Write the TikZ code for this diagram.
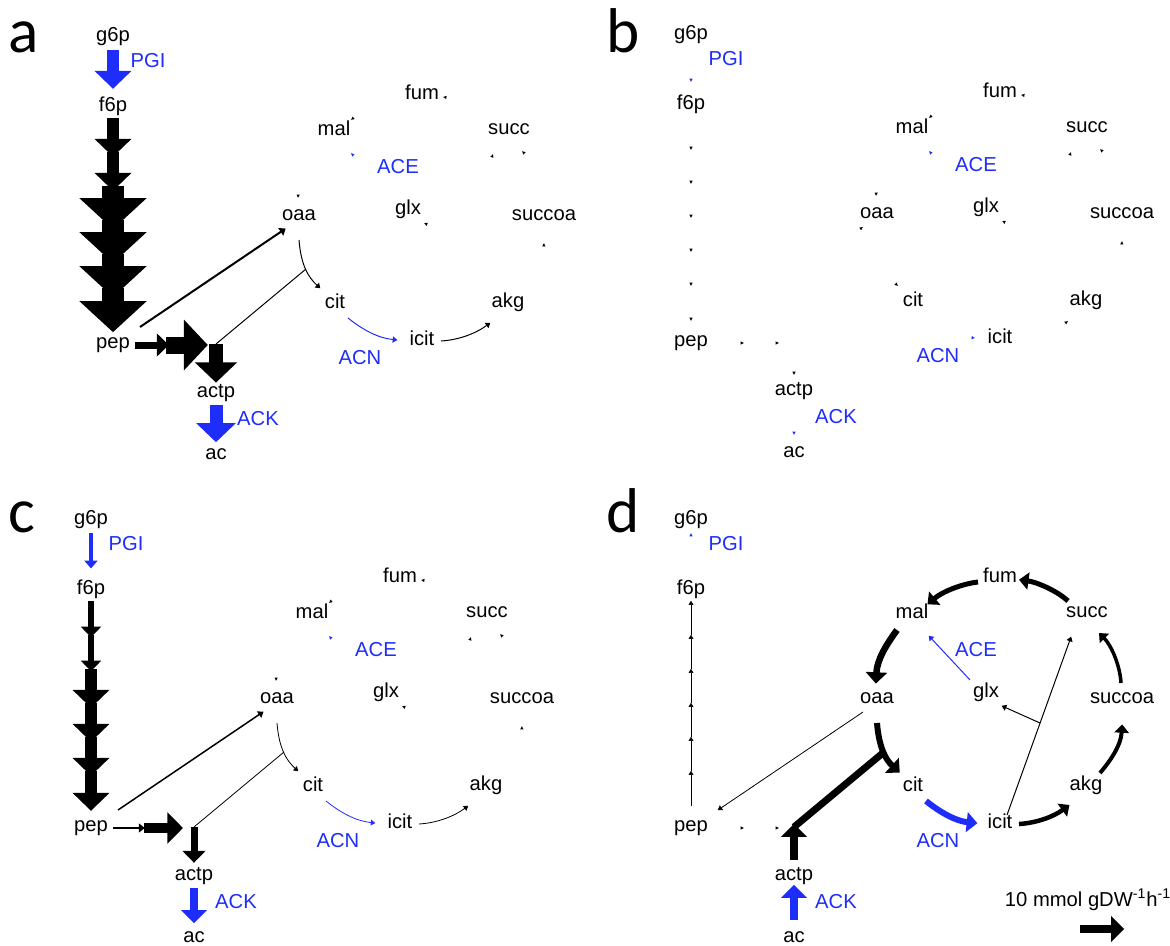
\documentclass[tikz,border=0pt]{standalone}
\usepackage{fontspec}
\setmainfont{Liberation Sans}
\newfontfamily\letterfont{Carlito}
\usetikzlibrary{arrows.meta}
\definecolor{enzblue}{RGB}{30,45,250}

\tikzset{
  met/.style={font=\fontsize{11.5}{13}\selectfont, inner sep=1pt},
  enz/.style={met, text=enzblue},
  lbl/.style={font=\letterfont\fontsize{36}{40}\selectfont, anchor=base west, inner sep=0pt},
  flux/.style={line width={abs(#1)*0.2mm}, shorten >={-0.08*abs(#1)*1mm},
    -{Triangle[length=2pt 1.2, width=2pt 2.7]}},
  nil/.style={line width=0.1pt, draw opacity=0, -{Triangle[length=2pt, width=2pt]}},
  link/.style={line width={#1*0.2mm}},
  enzarr/.style={draw=enzblue},
}

\newcommand\rxn[4][]{%
  \ifdim #2pt<0pt
    \ifdim -#2pt<0.1pt \draw[nil,#1] (#4) -- (#3);\else\draw[flux=#2,#1] (#4) -- (#3);\fi
  \else
    \ifdim #2pt<0.1pt \draw[nil,#1] (#3) -- (#4);\else\draw[flux=#2,#1] (#3) -- (#4);\fi
  \fi}
\newcommand\rxc[3][]{%
  \ifdim #2pt<0.1pt \draw[nil,#1] #3;\else\draw[flux=#2,#1] #3;\fi}

\newcommand\pathcs{(cs1) .. controls +(2,25) and +(-12,-11) .. (cs2)}
\newcommand\pathacn{(acn1) .. controls +(15,12) and +(-19,-2) .. (acn2)}
\newcommand\pathicd{(icd1) .. controls +(17,-1) and +(-15,11) .. (icd2)}
\newcommand\pathkg{(kg1) .. controls +(11,-13) and +(-1,19) .. (kg2)}
\newcommand\pathsc{(sc1) .. controls +(-1,-18) and +(11,11) .. (sc2)}
\newcommand\pathsd{(sd1) .. controls +(-12,-11) and +(15,2) .. (sd2)}
\newcommand\pathfm{(fm1) .. controls +(-17,2) and +(13,-11) .. (fm2)}
\newcommand\pathmd{(md1) .. controls +(-11,15) and +(1,-21) .. (md2)}

\newcommand\metabolites{%
  \node[met] (g6p) at (0,0) {g6p};
  \node[met] (f6p) at (0,69) {f6p};
  \node[met] (pep) at (0,308) {pep};
  \node[met] (actp) at (103,356) {actp};
  \node[met] (ac) at (103,417) {ac};
  \node[met] (oaa) at (186,178) {oaa};
  \node[met] (cit) at (222,264) {cit};
  \node[met] (icit) at (309,301) {icit};
  \node[met] (akg) at (395,265) {akg};
  \node[met] (succoa) at (431,178) {succoa};
  \node[met] (succ) at (396,92) {succ};
  \node[met] (fum) at (309,55) {fum};
  \node[met] (mal) at (221,91) {mal};
  \node[met] (glx) at (295,172) {glx};
  \node[enz] (PGI) at (35,24) {PGI};
  \node[enz] (ACE) at (285,130) {ACE};
  \node[enz] (ACN) at (247,321) {ACN};
  \node[enz] (ACK) at (145,382) {ACK};
  \coordinate (pgi1) at (0,13);
  \coordinate (pgi2) at (0,47);
  \coordinate (gly0) at (0,81);
  \coordinate (gly1) at (0,115);
  \coordinate (gly2) at (0,149);
  \coordinate (gly3) at (0,183);
  \coordinate (gly4) at (0,217);
  \coordinate (gly5) at (0,251);
  \coordinate (gly6) at (0,286);
  \coordinate (pepr) at (22,308);
  \coordinate (pyr) at (53,308);
  \coordinate (acc1) at (88,308);
  \coordinate (acc) at (103,307);
  \coordinate (act1) at (103,340);
  \coordinate (act2) at (103,368);
  \coordinate (ac1) at (103,400);
  \coordinate (ppc1) at (27,290);
  \coordinate (ppc2) at (172,192);
  \coordinate (csj) at (193,232);
  \coordinate (cs1) at (186,203);
  \coordinate (cs2) at (207,251);
  \coordinate (acn1) at (235,281);
  \coordinate (acn2) at (284,303);
  \coordinate (icd1) at (328,304);
  \coordinate (icd2) at (377,286);
  \coordinate (kg1) at (409,253);
  \coordinate (kg2) at (431,206);
  \coordinate (sc1) at (430,163);
  \coordinate (sc2) at (409,114);
  \coordinate (sd1) at (377,81);
  \coordinate (sd2) at (330,60);
  \coordinate (fm1) at (287,62);
  \coordinate (fm2) at (238,83);
  \coordinate (md1) at (206,110);
  \coordinate (md2) at (185,161);
  \coordinate (icl1) at (316,295);
  \coordinate (icl2) at (380,117);
  \coordinate (iclb) at (349,203);
  \coordinate (icl3) at (311,186);
  \coordinate (ace1) at (279,160);
  \coordinate (ace2) at (238,116);
}

\begin{document}
\begin{tikzpicture}[x=0.02cm, y=-0.02cm]
  \useasboundingbox (0,0) rectangle (1170,946);

  \node[lbl] (la) at (8,53) {a};
  \node[lbl] (lb) at (606,53) {b};
  \node[lbl] (lc) at (8,532) {c};
  \node[lbl] (ld) at (606,532) {d};

  \begin{scope}[shift={(113,37)}, name prefix=a-]
    \metabolites
    \rxn[enzarr]{12}{pgi1}{pgi2}
    \rxn{12}{gly0}{gly1}
    \rxn{12}{gly1}{gly2}
    \rxn{23}{gly2}{gly3}
    \rxn{23}{gly3}{gly4}
    \rxn{23}{gly4}{gly5}
    \rxn{23}{gly5}{gly6}
    \rxn{7}{pepr}{pyr}
    \rxn{17}{pyr}{acc1}
    \rxn{14}{acc}{act1}
    \rxn[enzarr]{13}{act2}{ac1}
    \rxn{2}{ppc1}{ppc2}
    \draw[link=1] (acc) -- (csj);
    \rxc{1}{\pathcs}
    \rxc[enzarr]{1}{\pathacn}
    \rxc{1}{\pathicd}
    \rxc{0}{\pathkg}
    \rxc{0}{\pathsc}
    \rxc{0}{\pathsd}
    \rxc{0}{\pathfm}
    \rxc{0}{\pathmd}
    \rxn{0}{icl1}{icl2}
    \rxn{0}{iclb}{icl3}
    \rxn[enzarr]{0}{ace1}{ace2}
  \end{scope}

  \begin{scope}[shift={(691,35)}, name prefix=b-]
    \metabolites
    \rxn[enzarr]{0}{pgi1}{pgi2}
    \rxn{0}{gly0}{gly1}
    \rxn{0}{gly1}{gly2}
    \rxn{0}{gly2}{gly3}
    \rxn{0}{gly3}{gly4}
    \rxn{0}{gly4}{gly5}
    \rxn{0}{gly5}{gly6}
    \rxn{0}{pepr}{pyr}
    \rxn{0}{pyr}{acc1}
    \rxn{0}{acc}{act1}
    \rxn[enzarr]{0}{act2}{ac1}
    \rxn{0}{ppc1}{ppc2}
    \rxc{0}{\pathcs}
    \rxc[enzarr]{0}{\pathacn}
    \rxc{0}{\pathicd}
    \rxc{0}{\pathkg}
    \rxc{0}{\pathsc}
    \rxc{0}{\pathsd}
    \rxc{0}{\pathfm}
    \rxc{0}{\pathmd}
    \rxn{0}{icl1}{icl2}
    \rxn{0}{iclb}{icl3}
    \rxn[enzarr]{0}{ace1}{ace2}
  \end{scope}

  \begin{scope}[shift={(91,520)}, name prefix=c-]
    \metabolites
    \rxn[enzarr]{3.5}{pgi1}{pgi2}
    \rxn{6}{gly0}{gly1}
    \rxn{6}{gly1}{gly2}
    \rxn{12}{gly2}{gly3}
    \rxn{12}{gly3}{gly4}
    \rxn{12}{gly4}{gly5}
    \rxn{12}{gly5}{gly6}
    \rxn{2}{pepr}{pyr}
    \rxn{10}{pyr}{acc1}
    \rxn{7}{acc}{act1}
    \rxn[enzarr]{8}{act2}{ac1}
    \rxn{1.5}{ppc1}{ppc2}
    \draw[link=0.8] (acc) -- (csj);
    \rxc{0.8}{\pathcs}
    \rxc[enzarr]{0.8}{\pathacn}
    \rxc{0.8}{\pathicd}
    \rxc{0}{\pathkg}
    \rxc{0}{\pathsc}
    \rxc{0}{\pathsd}
    \rxc{0}{\pathfm}
    \rxc{0}{\pathmd}
    \rxn{0}{icl1}{icl2}
    \rxn{0}{iclb}{icl3}
    \rxn[enzarr]{0}{ace1}{ace2}
  \end{scope}

  \begin{scope}[shift={(691,520)}, name prefix=d-]
    \metabolites
    \rxn[enzarr]{-0.01}{pgi1}{pgi2}
    \rxn{-0.5}{gly0}{gly1}
    \rxn{-0.5}{gly1}{gly2}
    \rxn{-0.5}{gly2}{gly3}
    \rxn{-0.5}{gly3}{gly4}
    \rxn{-0.5}{gly4}{gly5}
    \rxn{-0.5}{gly5}{gly6}
    \rxn{0}{pepr}{pyr}
    \rxn{0}{pyr}{acc1}
    \rxn{-8}{acc}{act1}
    \rxn[enzarr]{-8}{act2}{ac1}
    \rxn{-0.8}{ppc1}{ppc2}
    \draw[link=7] (acc) -- (csj);
    \rxc{6}{\pathcs}
    \rxc[enzarr]{6}{\pathacn}
    \rxc{4.5}{\pathicd}
    \rxc{4}{\pathkg}
    \rxc{3.5}{\pathsc}
    \rxc{5}{\pathsd}
    \rxc{5}{\pathfm}
    \rxc{6.5}{\pathmd}
    \rxn{1}{icl1}{icl2}
    \rxn{1}{iclb}{icl3}
    \rxn[enzarr]{1}{ace1}{ace2}
  \end{scope}

  \node[met] (scale) at (1088,900) {10 mmol gDW\textsuperscript{-1}h\textsuperscript{-1}};
  \coordinate (sb1) at (1080,929);
  \coordinate (sb2) at (1121,929);
  \draw[flux=8] (sb1) -- (sb2);
\end{tikzpicture}
\end{document}
